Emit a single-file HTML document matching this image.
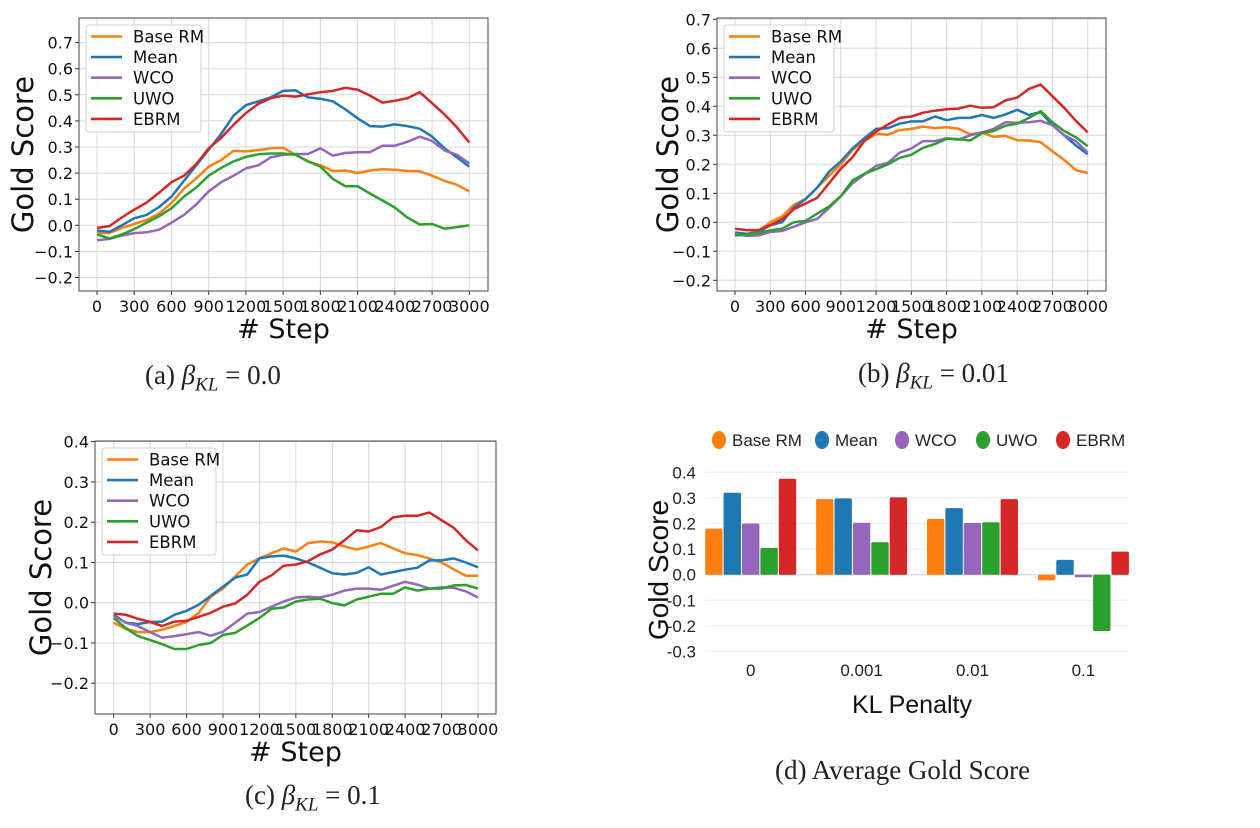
<!DOCTYPE html>
<html><head><meta charset="utf-8">
<style>
html,body{margin:0;padding:0;background:#fff;}
body{width:1260px;height:828px;overflow:hidden;position:relative;}
svg{position:absolute;left:0;top:0;}
.cap{position:absolute;font-family:"Liberation Serif",serif;font-size:27px;color:#222;white-space:nowrap;}
.cap i{font-style:italic;}
</style></head><body>
<svg id="chart" width="1260" height="828" font-family="DejaVu Sans, sans-serif"></svg>
<div class="cap" style="left:145px;top:360px">(a) <i>β<sub style="font-size:19px">KL</sub></i> = 0.0</div>
<div class="cap" style="left:858px;top:358px">(b) <i>β<sub style="font-size:19px">KL</sub></i> = 0.01</div>
<div class="cap" style="left:245px;top:780px">(c) <i>β<sub style="font-size:19px">KL</sub></i> = 0.1</div>
<div class="cap" style="left:775px;top:755px">(d) Average Gold Score</div>
<script>
const seriesNames=["Base RM","Mean","WCO","UWO","EBRM"];
const colors=["#ff7f0e","#1f77b4","#9467bd","#2ca02c","#d62728"];
const stepsTicks=[0,300,600,900,1200,1500,1800,2100,2400,2700,3000];
const aBase=[-0.03,-0.03,-0.01,0.005,0.02,0.045,0.085,0.14,0.18,0.225,0.25,0.285,0.283,0.288,0.295,0.297,0.27,0.245,0.23,0.208,0.21,0.2,0.21,0.215,0.213,0.208,0.207,0.19,0.17,0.155,0.13];
const aMean=[-0.02,-0.025,0.0,0.027,0.04,0.07,0.11,0.17,0.23,0.29,0.35,0.42,0.46,0.475,0.49,0.515,0.517,0.49,0.485,0.475,0.445,0.41,0.38,0.378,0.387,0.38,0.37,0.34,0.295,0.26,0.225];
const aWCO=[-0.057,-0.052,-0.04,-0.03,-0.027,-0.017,0.01,0.04,0.08,0.13,0.165,0.19,0.218,0.23,0.26,0.27,0.273,0.273,0.295,0.267,0.277,0.28,0.28,0.305,0.305,0.32,0.34,0.323,0.287,0.27,0.237];
const aUWO=[-0.035,-0.05,-0.035,-0.015,0.01,0.035,0.065,0.11,0.145,0.19,0.22,0.245,0.262,0.272,0.275,0.275,0.27,0.245,0.225,0.178,0.15,0.15,0.122,0.095,0.068,0.03,0.003,0.005,-0.013,-0.007,0.0];
const aEBRM=[-0.01,-0.003,0.03,0.06,0.087,0.125,0.165,0.19,0.235,0.295,0.335,0.385,0.43,0.465,0.487,0.497,0.493,0.502,0.51,0.515,0.527,0.52,0.497,0.47,0.477,0.487,0.51,0.468,0.425,0.375,0.317];
const bBase=[-0.04,-0.04,-0.03,0.0,0.02,0.06,0.08,0.12,0.16,0.2,0.25,0.28,0.305,0.302,0.318,0.322,0.33,0.325,0.328,0.323,0.303,0.31,0.295,0.298,0.283,0.282,0.276,0.245,0.215,0.18,0.17];
const bMean=[-0.035,-0.04,-0.035,-0.01,0.0,0.05,0.08,0.12,0.175,0.21,0.255,0.29,0.322,0.325,0.34,0.348,0.348,0.365,0.352,0.36,0.36,0.37,0.36,0.372,0.388,0.37,0.38,0.335,0.3,0.265,0.235];
const bWCO=[-0.04,-0.047,-0.045,-0.033,-0.03,-0.015,0.0,0.012,0.05,0.09,0.135,0.165,0.195,0.205,0.24,0.255,0.28,0.28,0.29,0.285,0.3,0.31,0.322,0.345,0.343,0.345,0.35,0.335,0.3,0.28,0.24];
const bUWO=[-0.045,-0.043,-0.037,-0.028,-0.022,0.0,0.005,0.03,0.055,0.09,0.145,0.167,0.183,0.2,0.222,0.233,0.257,0.27,0.288,0.287,0.282,0.307,0.315,0.333,0.34,0.36,0.383,0.345,0.315,0.293,0.262];
const bEBRM=[-0.022,-0.027,-0.027,-0.01,0.01,0.045,0.065,0.085,0.135,0.185,0.225,0.28,0.313,0.337,0.36,0.365,0.378,0.385,0.39,0.392,0.402,0.395,0.397,0.42,0.43,0.46,0.475,0.435,0.395,0.35,0.31];
const cBase=[-0.05,-0.065,-0.073,-0.073,-0.067,-0.058,-0.048,-0.025,0.015,0.035,0.065,0.095,0.11,0.123,0.135,0.127,0.148,0.152,0.15,0.14,0.132,0.14,0.148,0.135,0.123,0.118,0.11,0.1,0.083,0.067,0.067];
const cMean=[-0.03,-0.05,-0.053,-0.048,-0.047,-0.03,-0.02,-0.005,0.017,0.04,0.062,0.07,0.11,0.115,0.117,0.11,0.1,0.087,0.073,0.07,0.074,0.088,0.07,0.076,0.082,0.087,0.105,0.105,0.11,0.1,0.088];
const cWCO=[-0.033,-0.05,-0.058,-0.073,-0.087,-0.083,-0.078,-0.073,-0.082,-0.072,-0.05,-0.027,-0.023,-0.01,0.003,0.013,0.015,0.013,0.02,0.03,0.035,0.035,0.032,0.042,0.052,0.045,0.035,0.038,0.037,0.028,0.013];
const cUWO=[-0.038,-0.063,-0.083,-0.093,-0.103,-0.115,-0.115,-0.105,-0.1,-0.08,-0.075,-0.057,-0.038,-0.015,-0.012,0.003,0.008,0.01,-0.001,-0.007,0.008,0.015,0.022,0.022,0.038,0.03,0.035,0.035,0.043,0.044,0.035];
const cEBRM=[-0.027,-0.03,-0.04,-0.048,-0.058,-0.047,-0.045,-0.035,-0.025,-0.01,-0.002,0.02,0.052,0.068,0.092,0.095,0.103,0.12,0.132,0.155,0.18,0.177,0.188,0.212,0.216,0.216,0.224,0.205,0.186,0.155,0.13];
const aTicks=[-0.2,-0.1,0.0,0.1,0.2,0.3,0.4,0.5,0.6,0.7];
const bTicks=[-0.2,-0.1,0.0,0.1,0.2,0.3,0.4,0.5,0.6,0.7];
const cTicks=[-0.2,-0.1,0.0,0.1,0.2,0.3,0.4];
const dCats=["0","0.001","0.01","0.1"];
const dBase=[0.18,0.295,0.218,-0.022];
const dMean=[0.32,0.298,0.26,0.058];
const dWCO=[0.20,0.203,0.202,-0.01];
const dUWO=[0.105,0.127,0.205,-0.22];
const dEBRM=[0.375,0.302,0.295,0.09];
const dTicks=[-0.3,-0.2,-0.1,0.0,0.1,0.2,0.3,0.4];

const NS="http://www.w3.org/2000/svg";
const svg=document.getElementById('chart');
function mk(tag,attrs,parent,text){const e=document.createElementNS(NS,tag);for(const k in attrs)e.setAttribute(k,attrs[k]);if(text!==undefined)e.textContent=text;(parent||svg).appendChild(e);return e;}
function fmt(v){const s=v.toFixed(1);return v<0?'\u2212'+s.slice(1):s;}

function lineChart(cfg,series){
  const g=mk('g',{});
  
  
  const X=s=>cfg.x0+(s/3000)*(cfg.x1-cfg.x0);
  const Y=v=>cfg.yz+(-v/0.1)*cfg.yu;
  mk('rect',{x:cfg.L,y:cfg.T,width:cfg.R-cfg.L,height:cfg.B-cfg.T,fill:'#fff'},g);
  stepsTicks.forEach(s=>{
    mk('line',{x1:X(s),x2:X(s),y1:cfg.T,y2:cfg.B,stroke:'#d8d8d8','stroke-width':1},g);
    mk('line',{x1:X(s),x2:X(s),y1:cfg.B,y2:cfg.B+4,stroke:'#333'},g);
    const t=mk('text',{x:X(s),y:cfg.B+21,'font-size':16,'text-anchor':'middle',fill:'#111'},g,String(s));
    
    
  });
  cfg.ticks.forEach(v=>{
    mk('line',{x1:cfg.L,x2:cfg.R,y1:Y(v),y2:Y(v),stroke:'#d8d8d8','stroke-width':1},g);
    mk('line',{x1:cfg.L-4,x2:cfg.L,y1:Y(v),y2:Y(v),stroke:'#333'},g);
    const t=mk('text',{x:cfg.L-6,y:Y(v)+6,'font-size':16,'text-anchor':'end',fill:'#111'},g,fmt(v));
    
    
  });
  series.forEach((d,i)=>{
    const pts=d.map((v,j)=>X(j*100).toFixed(1)+','+Y(v).toFixed(1)).join(' ');
    const p=mk('polyline',{points:pts,fill:'none',stroke:colors[i],'stroke-width':2.5,'stroke-linejoin':'round'},g);
    
    
  });
  mk('rect',{x:cfg.L,y:cfg.T,width:cfg.R-cfg.L,height:cfg.B-cfg.T,fill:'none',stroke:'#444','stroke-width':1},g);
  const yt=mk('text',{x:cfg.ytx,y:(cfg.T+cfg.B)/2,'font-size':29,'text-anchor':'middle',fill:'#111',transform:`rotate(-90 ${cfg.ytx} ${(cfg.T+cfg.B)/2})`},g,'Gold Score');
  
  
  const xt=mk('text',{x:(cfg.L+cfg.R)/2,y:cfg.B+47,'font-size':27,'text-anchor':'middle',fill:'#111'},g,'# Step');
  
  
  const lg=mk('g',{},g);
  
  
  mk('rect',{x:cfg.lx,y:cfg.ly,width:cfg.lw,height:107,fill:'#fff',stroke:'#ccc',rx:3,opacity:0.9},lg);
  seriesNames.forEach((n,i)=>{
    const yy=cfg.ly+11.5+i*20.6;
    mk('line',{x1:cfg.lx+5,x2:cfg.lx+36,y1:yy,y2:yy,stroke:colors[i],'stroke-width':2.6},lg);
    const t=mk('text',{x:cfg.lx+47,y:yy+6,'font-size':16.5,fill:'#111'},lg,n);
    
    
  });
}
lineChart({name:'chart-a',L:79,R:488,T:18,B:291,x0:97,x1:469.3,yz:225.3,yu:26.1,ticks:aTicks,ytx:33,lx:86,ly:25,lw:115},[aBase,aMean,aWCO,aUWO,aEBRM]);
lineChart({name:'chart-b',L:717,R:1106,T:18,B:291,x0:735,x1:1087.7,yz:222.3,yu:29,ticks:bTicks,ytx:678,lx:724,ly:25,lw:110},[bBase,bMean,bWCO,bUWO,bEBRM]);
lineChart({name:'chart-c',L:95,R:496,T:441,B:714,x0:113.7,x1:478,yz:602.7,yu:40.25,ticks:cTicks,ytx:51,lx:102,ly:448,lw:114},[cBase,cMean,cWCO,cUWO,cEBRM]);

// bar chart d
(function(){
  const g=mk('g',{});
  
  
  const yz=574.7,yu=25.6,L=705,R=1128;
  const Y=v=>yz-(v/0.1)*yu;
  const groupX=i=>750.7+i*110.9;
  dTicks.forEach(v=>{
    mk('line',{x1:L,x2:R,y1:Y(v),y2:Y(v),stroke:v===0?'#ccc':'#ececec','stroke-width':1},g);
    const t=mk('text',{x:696,y:Y(v)+6,'font-size':17,'text-anchor':'end',fill:'#222','font-family':'Liberation Sans Narrow, Liberation Sans, sans-serif'},g,v.toFixed(1));
    
    
  });
  const all=[dBase,dMean,dWCO,dUWO,dEBRM];
  const bw=17.4,slot=18.4;
  dCats.forEach((c,ci)=>{
    all.forEach((d,si)=>{
      const x=groupX(ci)+(si-2)*slot-bw/2;
      const v=d[ci];
      const r=mk('rect',{x:x,y:Math.min(Y(v),yz),width:bw,height:Math.abs(Y(v)-yz),fill:colors[si],rx:1.5},g);
      
      
    });
    const t=mk('text',{x:groupX(ci),y:676,'font-size':17,'text-anchor':'middle',fill:'#222','font-family':'Liberation Sans Narrow, Liberation Sans, sans-serif'},g,c);
    
    
  });
  const yt=mk('text',{x:668,y:570,'font-size':28,'text-anchor':'middle',fill:'#111',transform:'rotate(-90 668 570)','font-family':'Liberation Sans, sans-serif'},g,'Gold Score');
  
  
  const xt=mk('text',{x:912,y:713,'font-size':25,'text-anchor':'middle',fill:'#111','font-family':'Liberation Sans Narrow, Liberation Sans, sans-serif'},g,'KL Penalty');
  
  
  const lxs=[719,822,902,983,1063];
  seriesNames.forEach((n,i)=>{
    mk('ellipse',{cx:lxs[i],cy:440,rx:7,ry:9,fill:colors[i]},g);
    const t=mk('text',{x:lxs[i]+13,y:446,'font-size':17,fill:'#222','font-family':'Liberation Sans Narrow, Liberation Sans, sans-serif'},g,n);
    
    
  });
})();
</script>
</body></html>
